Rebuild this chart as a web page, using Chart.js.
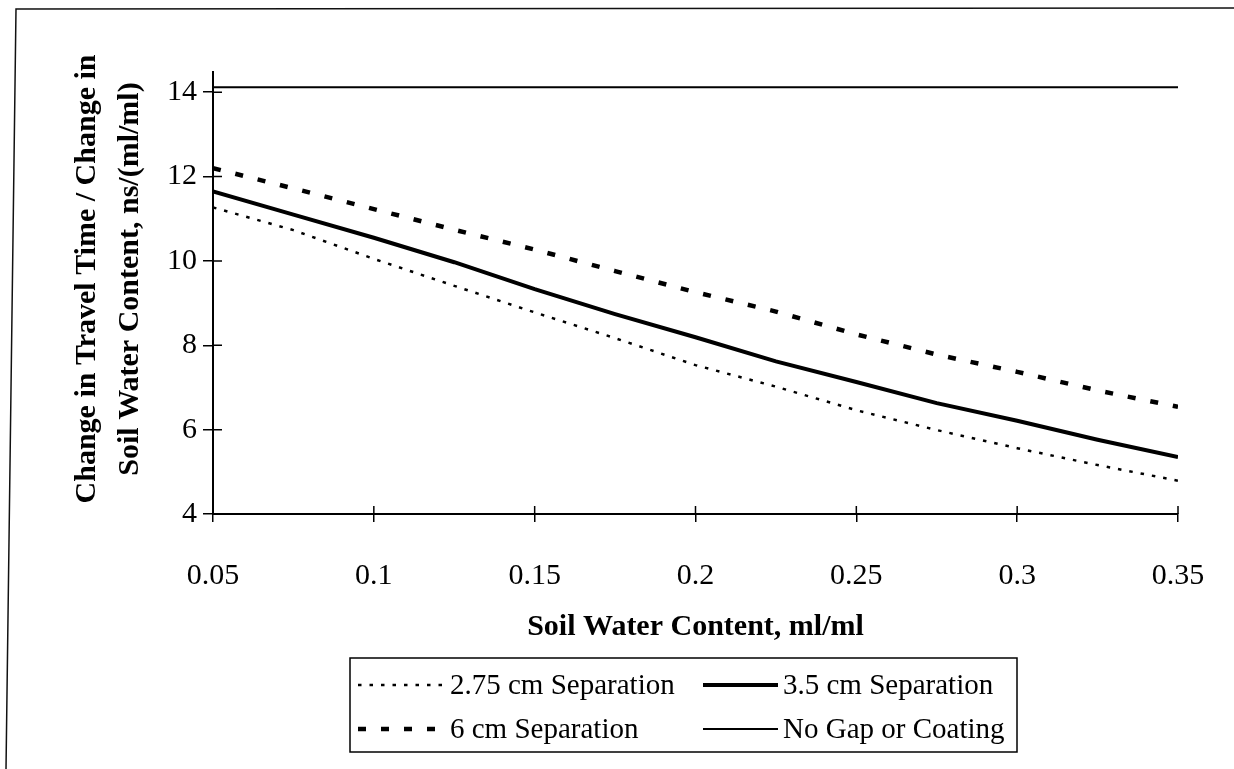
<!DOCTYPE html>
<html>
<head>
<meta charset="utf-8">
<script src="https://cdn.jsdelivr.net/npm/chart.js@4.4.1/dist/chart.umd.min.js"></script>
<style>
  html, body { margin: 0; padding: 0; background: #fff; }
  #wrap { position: relative; width: 1234px; height: 769px; }
</style>
</head>
<body>
<div id="wrap"><canvas id="sensitivity-chart" width="1234" height="769"></canvas></div>
<script>
// soil water content, ml/ml
const waterContent = [0.05, 0.075, 0.1, 0.125, 0.15, 0.175, 0.2, 0.225, 0.25, 0.275, 0.3, 0.325, 0.35];
// d(travel time)/d(water content), ns/(ml/ml)
const sep275 = [11.27, 10.73, 10.05, 9.41, 8.78, 8.17, 7.53, 7.02, 6.46, 5.99, 5.56, 5.16, 4.79];
const sep35 = [11.65, 11.1, 10.55, 9.97, 9.33, 8.74, 8.19, 7.62, 7.13, 6.63, 6.21, 5.76, 5.35];
const sep6 = [12.2, 11.72, 11.23, 10.74, 10.27, 9.76, 9.26, 8.8, 8.26, 7.78, 7.37, 6.93, 6.54];
const noGap = [14.12, 14.12, 14.12, 14.12, 14.12, 14.12, 14.12, 14.12, 14.12, 14.12, 14.12, 14.12, 14.12];

const seriesNames = ['2.75 cm Separation', '3.5 cm Separation', '6 cm Separation', 'No Gap or Coating'];
const xTicks = [0.05, 0.1, 0.15, 0.2, 0.25, 0.3, 0.35];
const xTickLabels = ['0.05', '0.1', '0.15', '0.2', '0.25', '0.3', '0.35'];
const yTicks = [4, 6, 8, 10, 12, 14];
const yTitleLines = ['Change in Travel Time / Change in', 'Soil Water Content, ns/(ml/ml)'];

const serif = "'Liberation Serif', 'Times New Roman', serif";

const toPoints = (values) => values.map((v, i) => ({ x: waterContent[i], y: v }));

// ticks in this style cross the axis, so draw the inner half too
const crossTicks = {
  id: 'crossTicks',
  afterDraw(chart) {
    const { ctx, scales: { x, y } } = chart;
    ctx.save();
    ctx.strokeStyle = '#000';
    ctx.lineWidth = 1.5;
    ctx.beginPath();
    yTicks.forEach((v) => {
      const py = y.getPixelForValue(v);
      ctx.moveTo(x.left, py);
      ctx.lineTo(x.left + 9, py);
    });
    xTicks.forEach((v) => {
      const px = x.getPixelForValue(v);
      ctx.moveTo(px, y.bottom);
      ctx.lineTo(px, y.bottom - 8);
    });
    ctx.stroke();
    ctx.restore();
  },
};

// two-line rotated title, sitting a little above the axis middle
const yTitle = {
  id: 'yTitle',
  afterDraw(chart) {
    const { ctx, chartArea } = chart;
    const cy = (chartArea.top + chartArea.bottom) / 2 - 14;
    ctx.save();
    ctx.fillStyle = '#000';
    ctx.font = `bold 30px ${serif}`;
    ctx.textAlign = 'center';
    ctx.textBaseline = 'middle';
    [87, 130].forEach((cx, i) => {
      ctx.save();
      ctx.translate(cx, cy);
      ctx.rotate(-Math.PI / 2);
      ctx.fillText(yTitleLines[i], 0, 0);
      ctx.restore();
    });
    ctx.restore();
  },
};

// boxed two-column legend under the axis title
const boxLegend = {
  id: 'boxLegend',
  afterDraw(chart) {
    const { ctx } = chart;
    const box = { left: 350, top: 658, right: 1017, bottom: 752 };
    const rows = [685, 729];
    const cols = [{ from: 358, to: 442, text: 450 }, { from: 703, to: 778, text: 783 }];
    ctx.save();
    ctx.strokeStyle = '#000';
    ctx.lineWidth = 1.5;
    ctx.strokeRect(box.left, box.top, box.right - box.left, box.bottom - box.top);
    ctx.font = `29px ${serif}`;
    ctx.fillStyle = '#000';
    ctx.textBaseline = 'middle';
    chart.data.datasets.forEach((ds, i) => {
      const row = rows[Math.floor(i / 2)];
      const col = cols[i % 2];
      ctx.beginPath();
      ctx.setLineDash(ds.borderDash || []);
      ctx.lineWidth = ds.borderWidth;
      ctx.moveTo(col.from, row);
      ctx.lineTo(col.to, row);
      ctx.stroke();
      ctx.setLineDash([]);
      ctx.fillText(ds.label, col.text, row + 1);
    });
    ctx.restore();
  },
};

// page frame along the top and left edges
const frame = {
  id: 'frame',
  beforeDraw(chart) {
    const { ctx } = chart;
    ctx.save();
    ctx.strokeStyle = '#111';
    ctx.lineWidth = 1.5;
    ctx.beginPath();
    ctx.moveTo(1234, 8);
    ctx.lineTo(16, 9);
    ctx.lineTo(6, 769);
    ctx.stroke();
    ctx.restore();
  },
};

const ctx = document.getElementById('sensitivity-chart');

new Chart(ctx, {
  type: 'line',
  data: {
    datasets: [
      {
        label: seriesNames[0],
        data: toPoints(sep275),
        borderColor: '#000',
        borderWidth: 2.5,
        borderDash: [3.5, 8],
      },
      {
        label: seriesNames[1],
        data: toPoints(sep35),
        borderColor: '#000',
        borderWidth: 4,
      },
      {
        label: seriesNames[2],
        data: toPoints(sep6),
        borderColor: '#000',
        borderWidth: 4.5,
        borderDash: [8, 15],
      },
      {
        label: seriesNames[3],
        data: toPoints(noGap),
        borderColor: '#000',
        borderWidth: 2,
      },
    ],
  },
  options: {
    responsive: false,
    animation: false,
    events: [],
    elements: { point: { radius: 0 }, line: { tension: 0 } },
    layout: { padding: { left: 0, top: 72, right: 56, bottom: 115 } },
    plugins: { legend: { display: false }, tooltip: { enabled: false } },
    scales: {
      x: {
        type: 'linear',
        min: 0.05,
        max: 0.35,
        afterBuildTicks: (scale) => {
          scale.ticks = xTicks.map((v) => ({ value: v }));
        },
        afterFit: (scale) => {
          scale.height = 140;
          scale.paddingLeft = 0;
          scale.paddingRight = 0;
        },
        ticks: {
          color: '#000',
          font: { family: serif, size: 30 },
          padding: 36,
          maxRotation: 0,
          autoSkip: false,
          callback: (value) => xTickLabels[xTicks.indexOf(value)],
        },
        grid: { drawOnChartArea: false, drawTicks: true, tickLength: 8, color: '#000', lineWidth: 1.5 },
        border: { display: true, color: '#000', width: 2 },
        title: {
          display: true,
          text: 'Soil Water Content, ml/ml',
          color: '#000',
          font: { family: serif, size: 30, weight: 'bold' },
          padding: { top: 0, bottom: 9 },
        },
      },
      y: {
        min: 4,
        max: 14.48,
        afterBuildTicks: (scale) => {
          scale.ticks = yTicks.map((v) => ({ value: v }));
        },
        afterFit: (scale) => {
          scale.width = 213;
        },
        ticks: {
          color: '#000',
          font: { family: serif, size: 30 },
          padding: 6,
        },
        grid: { drawOnChartArea: false, drawTicks: true, tickLength: 10, color: '#000', lineWidth: 1.5 },
        border: { display: true, color: '#000', width: 2 },
        title: { display: false },
      },
    },
  },
  plugins: [frame, crossTicks, yTitle, boxLegend],
});
</script>
</body>
</html>
